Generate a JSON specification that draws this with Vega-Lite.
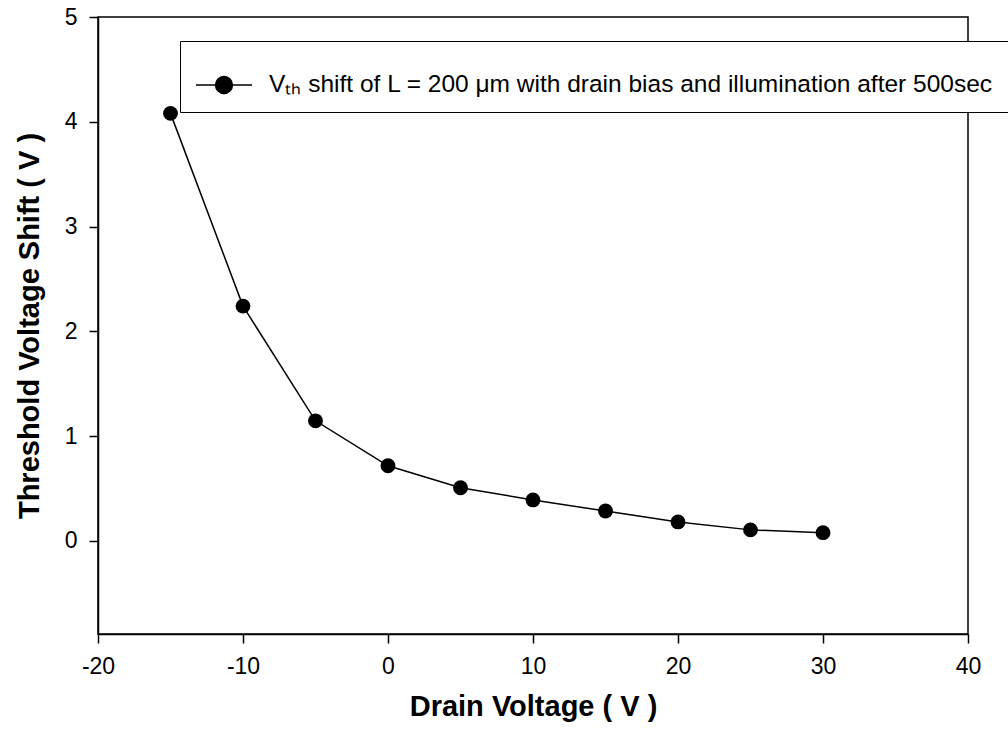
{
  "$schema": "https://vega.github.io/schema/vega-lite/v6.json",
  "width": 870,
  "height": 617,
  "autosize": {"type": "none"},
  "padding": {"left": 98, "top": 17, "right": 40, "bottom": 110},
  "background": "white",
  "config": {
    "view": {"stroke": "black", "strokeWidth": 1.5},
    "font": "Liberation Sans"
  },
  "data": {
    "values": [
      {"drain": -15, "shift": 4.08, "series": "Vₜₕ shift of L = 200 μm with drain bias and illumination after 500sec"},
      {"drain": -10, "shift": 2.24, "series": "Vₜₕ shift of L = 200 μm with drain bias and illumination after 500sec"},
      {"drain": -5, "shift": 1.145, "series": "Vₜₕ shift of L = 200 μm with drain bias and illumination after 500sec"},
      {"drain": 0, "shift": 0.716, "series": "Vₜₕ shift of L = 200 μm with drain bias and illumination after 500sec"},
      {"drain": 5, "shift": 0.506, "series": "Vₜₕ shift of L = 200 μm with drain bias and illumination after 500sec"},
      {"drain": 10, "shift": 0.39, "series": "Vₜₕ shift of L = 200 μm with drain bias and illumination after 500sec"},
      {"drain": 15, "shift": 0.284, "series": "Vₜₕ shift of L = 200 μm with drain bias and illumination after 500sec"},
      {"drain": 20, "shift": 0.18, "series": "Vₜₕ shift of L = 200 μm with drain bias and illumination after 500sec"},
      {"drain": 25, "shift": 0.104, "series": "Vₜₕ shift of L = 200 μm with drain bias and illumination after 500sec"},
      {"drain": 30, "shift": 0.077, "series": "Vₜₕ shift of L = 200 μm with drain bias and illumination after 500sec"}
    ]
  },
  "mark": {
    "type": "line",
    "color": "black",
    "strokeWidth": 1.5,
    "point": {"filled": true, "size": 220, "color": "black", "opacity": 1}
  },
  "encoding": {
    "x": {
      "field": "drain",
      "type": "quantitative",
      "scale": {"domain": [-20, 40], "nice": false, "zero": false},
      "axis": {
        "values": [-20, -10, 0, 10, 20, 30, 40],
        "labelExpr": "toString(datum.value)",
        "title": "Drain Voltage ( V )",
        "grid": false,
        "domainColor": "black",
        "domainWidth": 1.5,
        "tickColor": "black",
        "tickWidth": 1.5,
        "tickSize": 9,
        "labelFontSize": 23,
        "labelColor": "black",
        "labelPadding": 12,
        "labelFlush": false,
        "titleFontSize": 29,
        "titleFontWeight": "bold",
        "titleColor": "black",
        "titlePadding": 14
      }
    },
    "y": {
      "field": "shift",
      "type": "quantitative",
      "scale": {"domain": [-0.89, 5], "nice": false, "zero": false},
      "axis": {
        "values": [0, 1, 2, 3, 4, 5],
        "labelExpr": "toString(datum.value)",
        "title": "Threshold Voltage Shift ( V )",
        "grid": false,
        "domainColor": "black",
        "domainWidth": 1.5,
        "tickColor": "black",
        "tickWidth": 1.5,
        "tickSize": 9,
        "labelFontSize": 23,
        "labelColor": "black",
        "labelPadding": 12,
        "labelFlush": false,
        "titleFontSize": 29,
        "titleFontWeight": "bold",
        "titleColor": "black",
        "titlePadding": 20
      }
    },
    "color": {
      "field": "series",
      "type": "nominal",
      "scale": {"range": ["black"]},
      "legend": {
        "title": null,
        "orient": "none",
        "legendX": 82,
        "legendY": 24,
        "strokeColor": "black",
        "fillColor": "white",
        "padding": 15,
        "symbolType": "M-1,0H1M0.3,0A0.3,0.3 0 1,1 -0.3,0A0.3,0.3 0 1,1 0.3,0Z",
        "symbolSize": 3136,
        "symbolFillColor": "black",
        "symbolStrokeColor": "black",
        "symbolStrokeWidth": 1.5,
        "symbolOpacity": 1,
        "labelFontSize": 24.5,
        "labelColor": "black",
        "labelFont": "Liberation Sans",
        "labelOffset": 16,
        "labelLimit": 1200
      }
    }
  }
}
